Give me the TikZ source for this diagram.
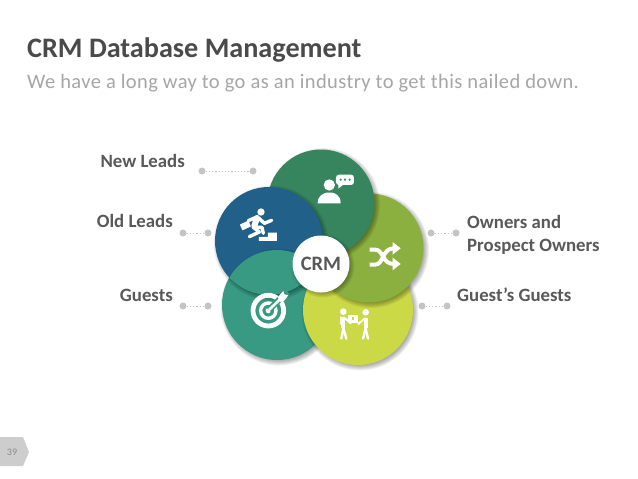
\documentclass[tikz,border=0pt]{standalone}
\usepackage{fontspec}
\setmainfont{Carlito}
\definecolor{cTop}{HTML}{37855F}
\definecolor{cOlive}{HTML}{8CB040}
\definecolor{cYellow}{HTML}{CBD946}
\definecolor{cTeal}{HTML}{389A82}
\definecolor{cBlue}{HTML}{216189}
\definecolor{cDot}{HTML}{C4C4C4}
\definecolor{cLabel}{HTML}{595959}
\definecolor{cTitle}{HTML}{4A4A4A}
\definecolor{cSub}{HTML}{A6A6A6}
\usetikzlibrary{calc}
\newcommand{\softshadow}[3]{%
  \foreach \k in {0,...,6} {\fill[black,opacity=0.055] (#1+2,#2+2) circle ({#3+3.5-\k*0.9});}
}
\newcommand{\disc}[4]{\softshadow{#1}{#2}{#3}\fill[#4] (#1,#2) circle (#3);}
\tikzset{
  lbl/.style={font=\fontsize{18.8}{23}\selectfont\bfseries,text=cLabel,inner sep=0pt},
  dotn/.style={circle,fill=cDot,minimum size=7pt,inner sep=0pt},
  leader/.style={cDot,line width=1pt,dash pattern=on 1.2pt off 2pt},
  zoomed/.style={shift={(200,140)},x=0.3333pt,y=-0.3333pt},
  ic/.style={white,line width=3.4pt,line cap=round,line join=round}
}
\begin{document}
\begin{tikzpicture}[x=1pt,y=-1pt]
\useasboundingbox (0,0) rectangle (638,479);
\fill[white] (0,0) rectangle (638,479);
\node[anchor=west,inner sep=0pt,text=cTitle,font=\fontsize{28.2}{32}\selectfont\bfseries] (title) at (27,50) {CRM Database Management};
\node[anchor=west,inner sep=0pt,text=cSub,font=\fontsize{20.5}{24}\selectfont\addfontfeatures{LetterSpace=1.9}] (sub) at (27,83) {We have a long way to go as an industry to get this nailed down.};
% page tab
\fill[cDot!85] (0,437) -- (23,437) -- (29,452) -- (23,466) -- (0,466) -- cycle;
\node[text=black!45,font=\fontsize{10}{10}\selectfont,inner sep=0pt] (pg) at (12,452) {39};
% leaders
\node[dotn] (a1) at (202,171) {}; \node[dotn] (a2) at (253,171) {};
\node[dotn] (b1) at (183,233) {}; \node[dotn] (b2) at (208,233) {};
\node[dotn] (c1) at (183,306) {}; \node[dotn] (c2) at (208,306) {};
\node[dotn] (d1) at (431,233) {}; \node[dotn] (d2) at (456,233) {};
\node[dotn] (e1) at (422,306) {}; \node[dotn] (e2) at (447,306) {};
\draw[leader] (a1) -- (a2); \draw[leader] (b1) -- (b2); \draw[leader] (c1) -- (c2);
\draw[leader] (d1) -- (d2); \draw[leader] (e1) -- (e2);
\node[lbl,anchor=east] (newl) at (185,161) {New Leads};
\node[lbl,anchor=east] (oldl) at (173,221) {Old Leads};
\node[lbl,anchor=east] (gst) at (173,295) {Guests};
\node[lbl,anchor=west,align=left] (own) at (467,234.5) {Owners and\\Prospect Owners};
\node[lbl,anchor=west] (gg) at (457,295) {Guest’s Guests};
% discs, cyclic overlap
\disc{277}{305}{55}{cTeal}
\disc{358}{310}{55}{cYellow}
\disc{369}{248}{54.5}{cOlive}
\disc{321}{203}{53.5}{cTop}
\disc{269}{241}{54}{cBlue}
\begin{scope}
  \clip (269,241) circle (54);
  \softshadow{277}{305}{55}
  \fill[cTeal] (277,305) circle (55);
\end{scope}
\softshadow{321}{264}{28}
\node[circle,fill=white,minimum size=57pt,inner sep=0pt,text=cLabel,font=\fontsize{20.5}{22}\selectfont\bfseries] (crm) at (321,264) {CRM};
% icons
\begin{scope}[zoomed]
  % person + bubble
  \fill[white] (388,135) circle (17);
  \fill[white] (353,190) .. controls (353,165) and (372,160) .. (380,158) -- (397,158) .. controls (405,160) and (422,165) .. (422,190) -- cycle;
  \fill[white,rounded corners=3pt] (408,104) rectangle (462,135);
  \fill[white] (415,130) -- (415,146) -- (432,132) -- cycle;
  \foreach \q in {422,435,449} \fill[cTop] (\q,119) circle (3.6);
  % runner
  \fill[white] (183,216) circle (11);
  \draw[ic,line width=6pt] (171,234) -- (163,258);
  \draw[ic] (168,232) -- (145,242);
  \draw[ic] (176,234) -- (193,250) -- (215,241);
  \draw[ic] (160,262) -- (178,276) -- (148,290);
  \draw[ic] (160,262) -- (186,262) -- (190,280);
  \fill[white,rotate around={25:(136,256)}] (122,247) rectangle (150,266);
  \fill[white] (177,303) -- (177,291) -- (204,291) -- (204,278) -- (231,278) -- (231,303) -- cycle;
  % shuffle
  \draw[white,line width=4pt] (509,329) -- (525,329) .. controls (552,329) and (545,372) .. (582,372);
  \draw[white,line width=4pt] (509,374) -- (525,374) .. controls (552,374) and (545,325) .. (582,325);
  \fill[white] (578,306) -- (602,325) -- (578,344) -- cycle;
  \fill[white] (578,353) -- (602,372) -- (578,391) -- cycle;
  % target
  \draw[white,line width=4.8pt] (205,512) circle (46);
  \draw[white,line width=3.4pt] (205,512) circle (23);
  \fill[white] (205,512) circle (8);
  \draw[cTeal,line width=6pt] (207,510) -- (262,455);
  \draw[white,line width=2.6pt] (207,510) -- (248,470);
  \fill[white] (233,472) -- (250,453) -- (253,463) -- (265,466) -- (252,483) -- (240,486) -- cycle;
  % two people
  \fill[white] (430,515) circle (10);
  \fill[white] (497,517) circle (10);
  \draw[ic,line width=4pt,line cap=butt] (430,530) -- (430,565);
  \draw[ic,line width=2.4pt] (430,565) -- (424,596);
  \draw[ic,line width=2.4pt] (430,565) -- (439,596);
  \draw[ic,line width=2.4pt] (423,532) -- (423,552);
  \draw[ic,line width=2pt] (432,532) -- (452,550);
  \draw[ic,line width=4pt,line cap=butt] (497,534) -- (497,565);
  \draw[ic,line width=2.4pt] (497,565) -- (489,596);
  \draw[ic,line width=2.4pt] (497,565) -- (504,596);
  \draw[ic,line width=2pt] (495,535) -- (475,552);
  \fill[white] (445,525) rectangle (473,548);
  \fill[cYellow] (456,532) rectangle (462,541);
\end{scope}
\end{tikzpicture}
\end{document}
